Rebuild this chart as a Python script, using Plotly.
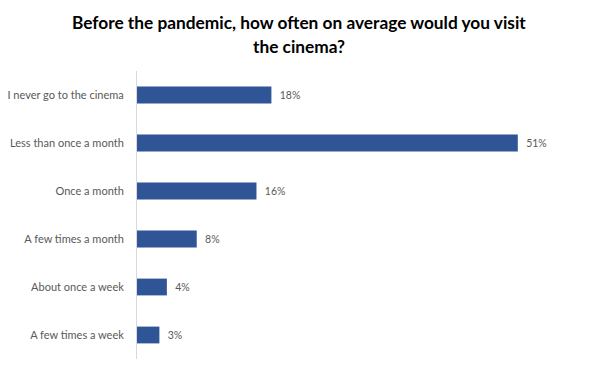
import plotly.graph_objects as go

title_lines = [
    "Before the pandemic, how often on average would you visit",
    "the cinema?",
]
categories = [
    "I never go to the cinema",
    "Less than once a month",
    "Once a month",
    "A few times a month",
    "About once a week",
    "A few times a week",
]
values = [18, 51, 16, 8, 4, 3]
labels = [f"{v}%" for v in values]

FONT = "Lato, Open Sans, Liberation Sans, sans-serif"

fig = go.Figure(
    go.Bar(
        x=values,
        y=categories,
        orientation="h",
        marker=dict(color="#2F5597", line=dict(width=0)),
        text=["  " + t for t in labels],
        textposition="outside",
        textfont=dict(family=FONT, size=10.5, color="#595959"),
        cliponaxis=False,
        hoverinfo="skip",
    )
)

L, R, T, B = 129, 23, 63, 24
W = 600 - L - R

fig.update_layout(
    width=600,
    height=375,
    margin=dict(l=L, r=R, t=T, b=B),
    paper_bgcolor="white",
    plot_bgcolor="white",
    bargap=0.65,
    showlegend=False,
    xaxis=dict(range=[0, 60], visible=False, fixedrange=True),
    yaxis=dict(
        autorange="reversed",
        automargin=False,
        showline=True,
        linecolor="#d9d9d9",
        linewidth=1,
        showgrid=False,
        zeroline=False,
        ticks="",
        ticklabelstandoff=10,
        tickfont=dict(family=FONT, size=11, color="#595959"),
    ),
)

for i, line in enumerate(title_lines):
    fig.add_annotation(
        text=f"<b>{line}</b>",
        xref="paper",
        yref="paper",
        x=(291 - L) / W,
        xanchor="center",
        y=1,
        yanchor="middle",
        yshift=(T - 14) - 24 * i,
        showarrow=False,
        font=dict(family=FONT, size=17.3, color="#000000"),
    )

fig.write_html("out.html")
